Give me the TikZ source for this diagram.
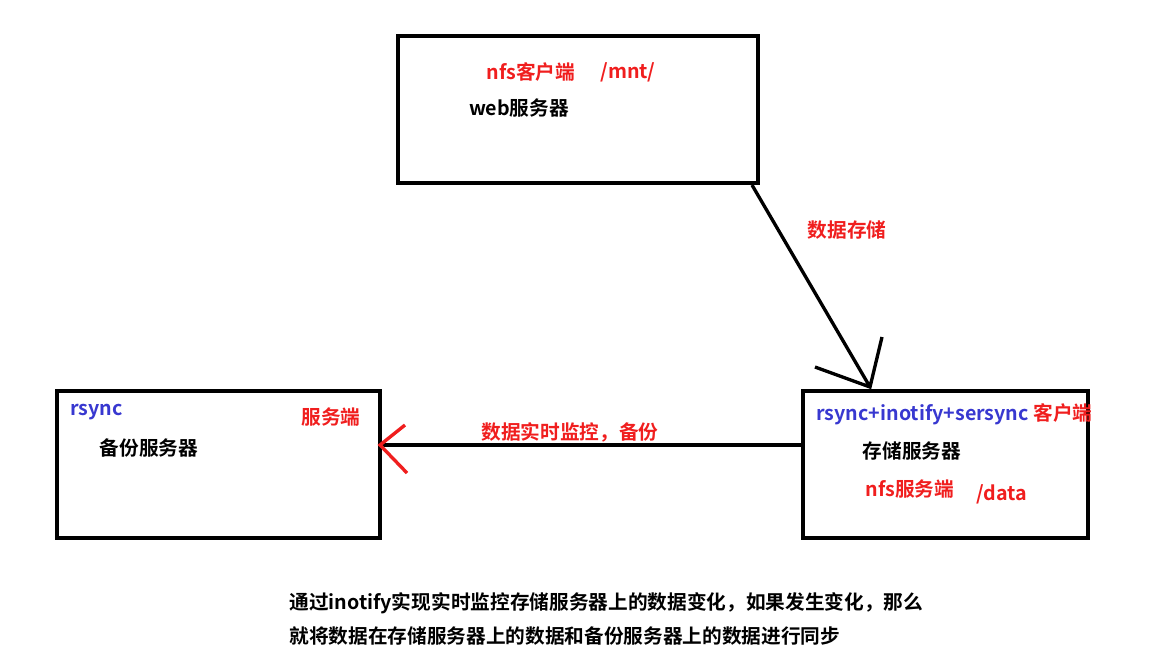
\documentclass[tikz,border=0pt]{standalone}
\usepackage{fontspec}
\setmainfont{Noto Sans CJK SC}[BoldFont={* Bold}]
\begin{document}
\begin{tikzpicture}[x=0.02cm,y=-0.02cm,
  txt/.style={font=\bfseries\fontsize{11.2}{13}\selectfont,inner sep=0pt},
  red/.style={text=rd},blue/.style={text=bl}]
\definecolor{rd}{HTML}{F01E1E}\definecolor{bl}{HTML}{3838D0}
\useasboundingbox (0,0) rectangle (1169,667);
\draw[line width=1.9pt] (398,36) rectangle (758,183);
\draw[line width=1.9pt] (57,391) rectangle (380,538);
\draw[line width=1.9pt] (803,391) rectangle (1088,538);
\coordinate (a1) at (752,185); \coordinate (a2) at (870,387);
\draw[line width=1.9pt] (a1) -- (a2) (815,367) -- (a2) -- (882,337);
\coordinate (b1) at (803,445); \coordinate (b2) at (380,445);
\draw[line width=1.9pt] (b1) -- (b2);
\draw[line width=1.9pt,rd] (405,425) -- (b2) -- (407,473);
\node[txt,red] at (847,230) {数据存储};
\node[txt,red] at (570,432) {数据实时监控，备份};
\node[txt,red] at (531,72) {nfs客户端};
\node[txt,red] at (628,72) {/mnt/};
\node[txt] at (519,108) {web服务器};
\node[txt,blue,anchor=west] at (70,412) {rsync};
\node[txt] at (149,448) {备份服务器};
\node[txt,red] at (331,417) {服务端};
\node[txt,anchor=west] at (816,414) {\textcolor{bl}{rsync+inotify+sersync} \textcolor{rd}{客户端}};
\node[txt] at (912,451) {存储服务器};
\node[txt,red] at (910,489) {nfs服务端};
\node[txt,red] at (1002,494) {/data};
\node[txt,anchor=west] at (289,603) {通过inotify实现实时监控存储服务器上的数据变化，如果发生变化，那么};
\node[txt,anchor=west] at (289,636) {就将数据在存储服务器上的数据和备份服务器上的数据进行同步};
\end{tikzpicture}
\end{document}
